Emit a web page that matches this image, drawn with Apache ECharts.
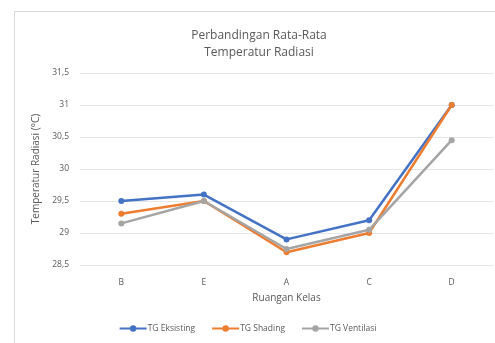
<!DOCTYPE html>
<html><head><meta charset="utf-8">
<script src="https://cdn.jsdelivr.net/npm/echarts@6/dist/echarts.min.js"></script>
<style>html,body{margin:0;padding:0;background:#fff}#c{width:495px;height:343px}</style>
</head><body><div id="c"></div>
<script>
const categories = ['B', 'E', 'A', 'C', 'D'];
const tgEksisting = [29.5, 29.6, 28.9, 29.2, 31.0];
const tgShading = [29.3, 29.5, 28.7, 29.0, 31.0];
const tgVentilasi = [29.15, 29.5, 28.75, 29.05, 30.45];
const seriesNames = ['TG Eksisting', 'TG Shading', 'TG Ventilasi'];
const colors = ['#4472C4', '#ED7D31', '#A5A5A5'];
const font = 'Open Sans';

const chart = echarts.init(document.getElementById('c'), null, {renderer: 'canvas'});
const mk = (name, data, color) => ({
  name, type: 'line', data, symbol: 'circle', symbolSize: 6,
  lineStyle: {width: 2.5, color}, itemStyle: {color},
  emphasis: {disabled: true}
});
chart.setOption({
  animation: false,
  graphic: [{type: 'rect', shape: {x: 14.5, y: 11.5, width: 490, height: 340},
    style: {fill: 'none', stroke: '#D9D9D9', lineWidth: 1}, silent: true}],
  title: {
    text: 'Perbandingan Rata-Rata\nTemperatur Radiasi',
    left: 254, top: 22, textAlign: 'center',
    textStyle: {fontFamily: font, fontSize: 12, fontWeight: 'normal', color: '#595959', lineHeight: 17}
  },
  legend: {
    bottom: 5, left: 'center', itemWidth: 27, itemHeight: 8, itemGap: 16,
    textStyle: {fontFamily: font, fontSize: 8.5, color: '#595959', padding: [0, 0, 0, -4]},
    data: seriesNames
  },
  grid: {left: 80, right: 2, top: 73, bottom: 78},
  xAxis: {
    type: 'category', data: categories, boundaryGap: true,
    name: 'Ruangan Kelas', nameLocation: 'middle', nameGap: 28,
    nameTextStyle: {fontFamily: font, fontSize: 10, color: '#595959'},
    axisLine: {show: false}, axisTick: {show: false},
    axisLabel: {fontFamily: font, fontSize: 8.5, color: '#595959', margin: 13}
  },
  yAxis: {
    type: 'value', min: 28.5, max: 31.5, interval: 0.5,
    name: 'Temperatur Radiasi (°C)', nameLocation: 'middle', nameGap: 38,
    nameTextStyle: {fontFamily: font, fontSize: 10, color: '#595959'},
    axisLine: {show: false}, axisTick: {show: false},
    axisLabel: {fontFamily: font, fontSize: 8.5, color: '#595959', margin: 11,
      formatter: v => String(v).replace('.', ',')},
    splitLine: {lineStyle: {color: '#E6E6E6', width: 1}}
  },
  series: [
    mk(seriesNames[0], tgEksisting, colors[0]),
    mk(seriesNames[1], tgShading, colors[1]),
    mk(seriesNames[2], tgVentilasi, colors[2])
  ]
});
</script></body></html>
